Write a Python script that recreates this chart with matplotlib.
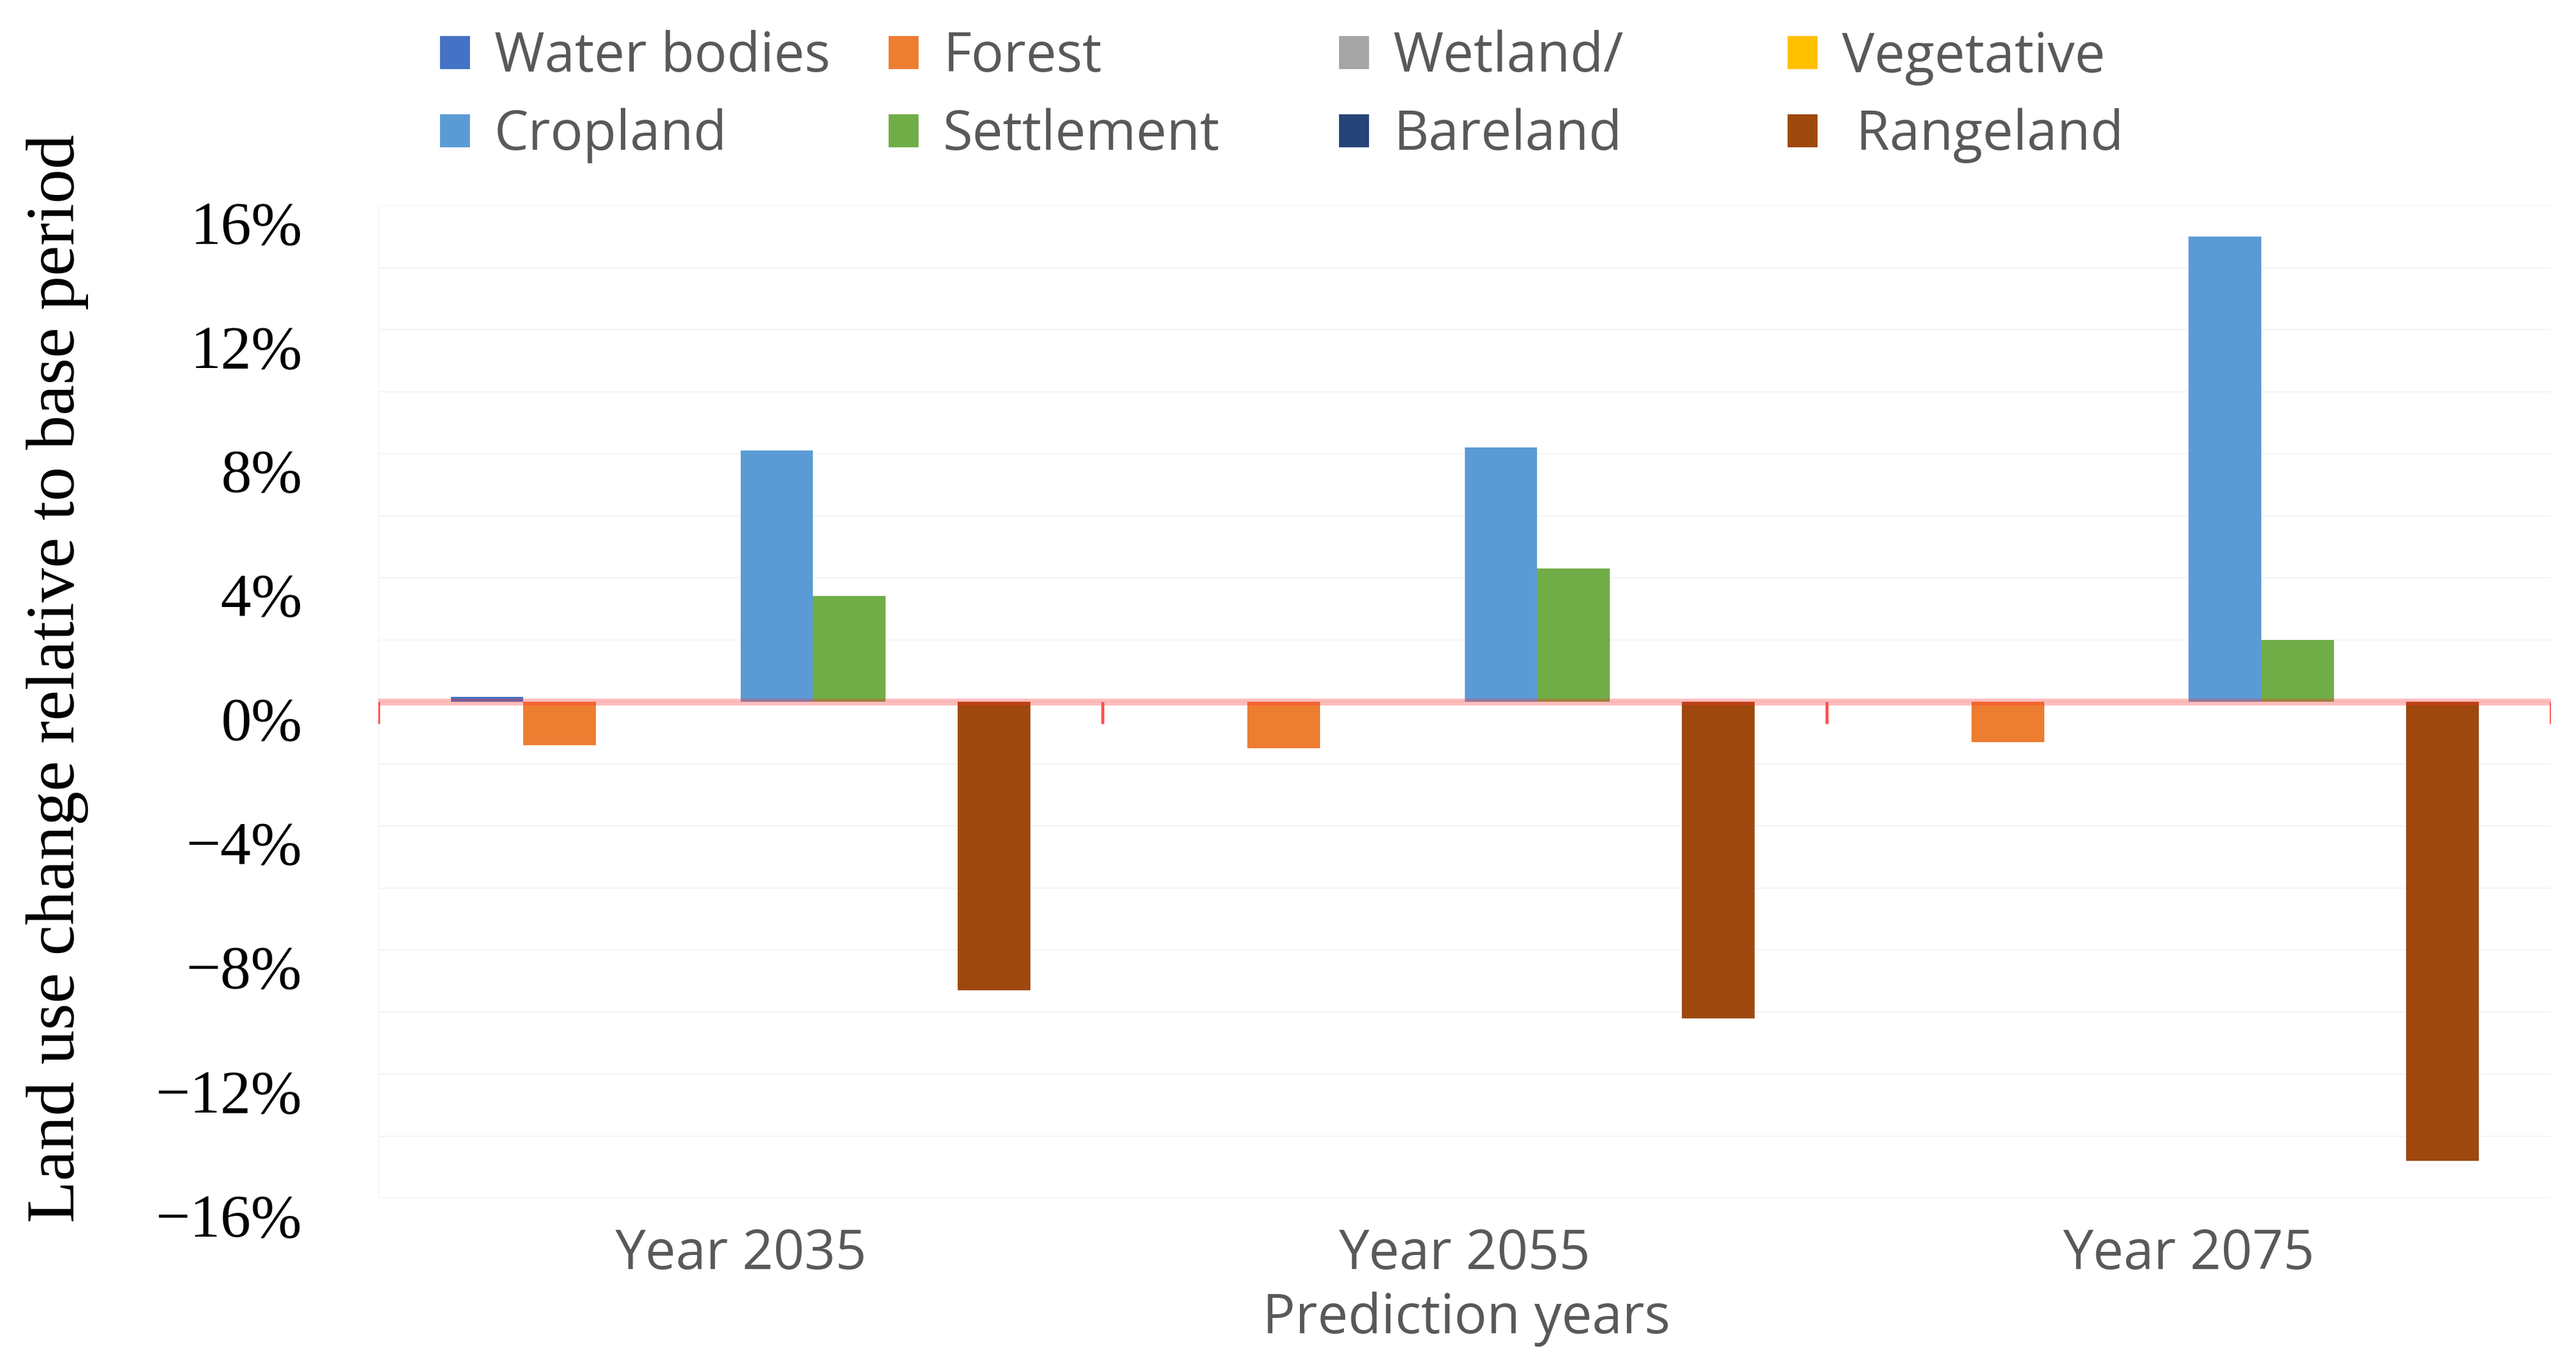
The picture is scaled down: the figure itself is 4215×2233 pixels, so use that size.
import numpy as np
import matplotlib
matplotlib.use("Agg")
import matplotlib.pyplot as plt
import matplotlib.transforms as mtransforms
from matplotlib.patches import Patch


# ---------------------------------------------------------
# Data (percent change relative to base period)
# ---------------------------------------------------------
years = ["Year 2035", "Year 2055", "Year 2075"]
classes = ["Water bodies", "Forest", "Wetland/", "Vegetative",
           "Cropland", "Settlement", "Bareland", " Rangeland"]

water_bodies = [0.15, 0.0, 0.0]
forest = [-1.4, -1.5, -1.3]
wetland = [0.0, 0.0, 0.0]
vegetative = [0.0, 0.0, 0.0]
cropland = [8.1, 8.2, 15.0]
settlement = [3.4, 4.3, 2.0]
bareland = [0.0, 0.0, 0.0]
rangeland = [-9.3, -10.2, -14.8]

series = [water_bodies, forest, wetland, vegetative,
          cropland, settlement, bareland, rangeland]
colors = ["#4472C4", "#ED7D31", "#A5A5A5", "#FFC000",
          "#5B9BD5", "#70AD47", "#264478", "#9E480E"]

yticks = [-16, -12, -8, -4, 0, 4, 8, 12, 16]

GREY = "#595959"
SANS = ["Open Sans", "DejaVu Sans"]
SERIF = ["Liberation Serif", "DejaVu Serif"]

# ---------------------------------------------------------
# Figure
# ---------------------------------------------------------
W, H = 4215, 2233
fig = plt.figure(figsize=(W / 100, H / 100), dpi=100)
ax = fig.add_axes([619 / W, 1 - 1960 / H, (4174 - 619) / W, (1960 - 336) / H])

x = np.arange(len(years))
width = 0.1
for i, (vals, col) in enumerate(zip(series, colors)):
    ax.bar(x + (i - 3.5) * width, vals, width, color=col, zorder=2)

ax.set_xlim(-0.5, 2.5)
ax.set_ylim(-16, 16)

# faint gridlines
for g in np.arange(-16, 17, 2):
    ax.axhline(g, color="#f4f4f4", lw=1.5, zorder=0)
ax.axvline(-0.5, color="#f0f0f0", lw=1.5, zorder=0)

# zero axis line with category tick marks
ax.axhline(0, color="#ff3030", alpha=0.32, lw=8, zorder=3)
ax.vlines(np.arange(-0.5, 3, 1), -0.7, 0, color="#ff5050", lw=3.5, zorder=3)

for s in ax.spines.values():
    s.set_visible(False)

ax.set_yticks(yticks)
ax.set_yticklabels([f"{t}%".replace("-", "\u2212") for t in yticks],
                   family=SERIF, fontsize=72)
ax.tick_params(axis="y", length=0, pad=90)
offset = mtransforms.ScaledTranslation(0, -0.28, fig.dpi_scale_trans)
for lab in ax.get_yticklabels():
    lab.set_transform(lab.get_transform() + offset)

ax.set_xticks(x)
ax.set_xticklabels(years, family=SANS, fontsize=64, color=GREY)
ax.tick_params(axis="x", length=0, pad=34)

fig.text(2399 / W, 1 - 2158 / H, "Prediction years", family=SANS,
         fontsize=64, color=GREY, ha="center", va="center")
fig.text(94 / W, 1 - 1110 / H, "Land use change relative to base period",
         family=SERIF, fontsize=81, rotation=90, ha="center", va="center")

# ---------------------------------------------------------
# Legend: 4 fixed columns, 2 rows
# ---------------------------------------------------------
col_x = [720, 1454, 2191, 2925]
for c in range(4):
    idx = [c, c + 4]
    handles = [Patch(facecolor=colors[k]) for k in idx]
    fig.legend(handles, [classes[k] for k in idx], loc="upper left",
               bbox_to_anchor=(col_x[c] / W, 1 - 49 / H), frameon=False,
               borderpad=0, borderaxespad=0, handlelength=0.55, handleheight=0.55,
               handletextpad=0.45, labelspacing=0.42,
               prop={"family": SANS, "size": 64}, labelcolor=GREY)

fig.savefig("out.png", dpi=100, facecolor="white")
